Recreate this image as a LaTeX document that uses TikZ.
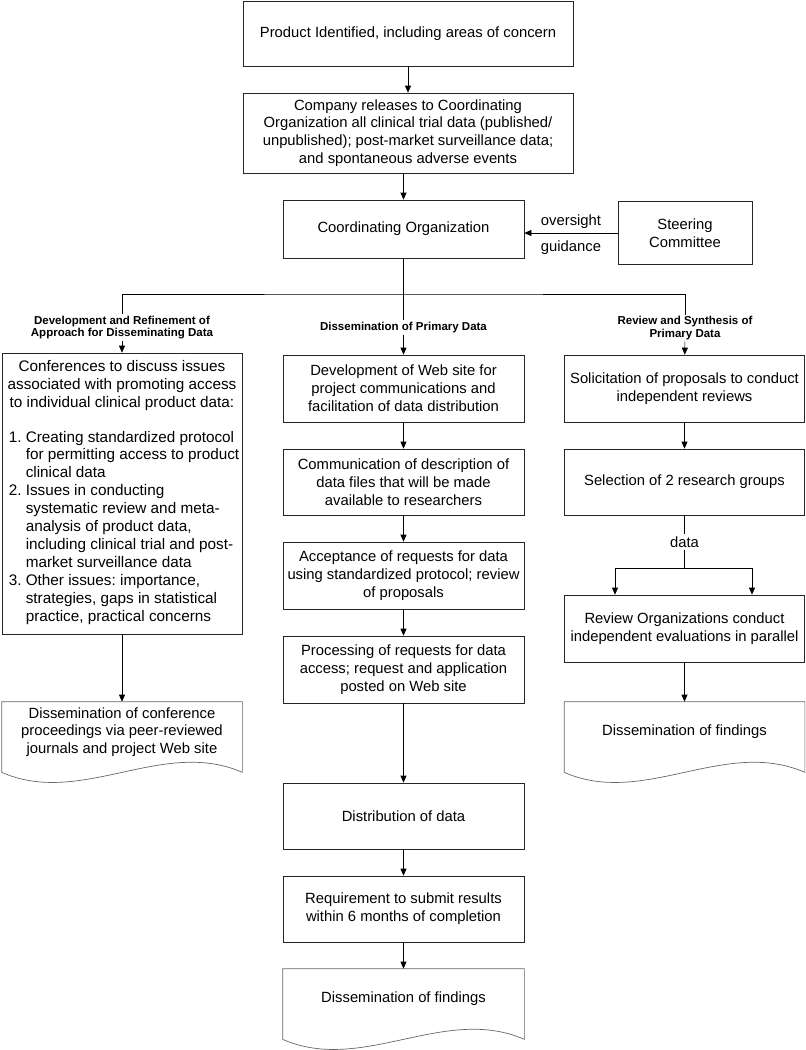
\documentclass[tikz,border=0pt]{standalone}
\usepackage{fontspec}
\setmainfont{Liberation Sans}
\usetikzlibrary{arrows.meta}
\frenchspacing

\tikzset{
  box/.style={draw=black!85, align=center, inner sep=2pt, font={\fontsize{14.8}{17.8}\selectfont}},
  doc/.style={align=center, inner sep=2pt, font={\fontsize{14.8}{17.8}\selectfont}},
  lab/.style={align=center, inner sep=1.5pt, font={\fontsize{11.5}{12.5}\selectfont\bfseries}},
  txt/.style={inner sep=2pt, font={\fontsize{14.8}{17.8}\selectfont}},
}

% paper-like box with wavy bottom
\newcommand{\docwave}[1]{
  \draw[draw=black!60] (#1.north west) -- (#1.north east) -- ([yshift=-10pt]#1.south east)
    .. controls ([xshift=-80pt,yshift=25pt]#1.south east) and ([xshift=80pt,yshift=-45pt]#1.south west)
    .. ([yshift=-10pt]#1.south west) -- cycle;
}

\begin{document}
\begin{tikzpicture}[x=1pt, y=-1pt, line width=0.7pt, >={Triangle[length=7pt,width=6pt]}]
        \useasboundingbox (0,0) rectangle (806,1050);

        % top
        \node[box, minimum width=330pt, minimum height=65pt] (prod) at (408,33.5) {Product Identified, including areas of concern};
        \node[box, minimum width=330pt, minimum height=80pt] (release) at (408,133) {Company releases to Coordinating\\Organization all clinical trial data (published/\\unpublished); post-market surveillance data;\\and spontaneous adverse events};
        \node[box, minimum width=241pt, minimum height=58pt] (coord) at (403.5,229) {Coordinating Organization};
        \node[box, minimum width=134pt, minimum height=63pt] (steer) at (685,233) {Steering\\Committee};

        \draw[->] (prod) -- (release);
        \draw[->] (release.south -| coord.north) -- (coord);
        \draw[->] (steer.west) -- (steer.west -| coord.east)
            node[txt, midway, above=2pt] {oversight} node[txt, midway, below=5pt] {guidance};

        % branch labels
        \coordinate (split) at (403.5,294);
        \node[lab] (leftlab) at (122,327.5) {Development and Refinement of\\Approach for Disseminating Data};
        \node[lab] (midlab) at (403.5,327.5) {Dissemination of Primary Data};
        \node[lab] (rightlab) at (685,328) {Review and Synthesis of\\Primary Data};
        \draw (coord) -- (midlab);
        \draw (leftlab.north) |- (split) -| (rightlab.north);

        % left column
        \node[box, minimum width=240pt, minimum height=281pt, inner sep=1pt, font={\fontsize{15.3}{17.9}\selectfont}] (conf) at (122,493.5) {Conferences to discuss issues\\associated with promoting access\\to individual clinical product data:\\[17.9pt]
          \hspace*{4pt}\begin{tabular}{@{}r@{ }l@{}}
          1.&Creating standardized protocol\\
            &for permitting access to product\\
            &clinical data\\
          2.&Issues in conducting\\
            &systematic review and meta-\\
            &analysis of product data,\\
            &including clinical trial and post-\\
            &market surveillance data\\
          3.&Other issues: importance,\\
            &strategies, gaps in statistical\\
            &practice, practical concerns
          \end{tabular}};
        \node[doc, minimum width=240pt, minimum height=60pt] (confdoc) at (122,732) {Dissemination of conference\\proceedings via peer-reviewed\\journals and project Web site};
        \docwave{confdoc}
        \draw[->] (leftlab) -- (conf);
        \draw[->] (conf) -- (confdoc);

        % middle column
        \node[box, minimum width=241pt, minimum height=67pt] (web) at (403.5,388.5) {Development of Web site for\\project communications and\\facilitation of data distribution};
        \node[box, minimum width=241pt, minimum height=66pt] (files) at (403.5,482) {Communication of description of\\data files that will be made\\available to researchers};
        \node[box, minimum width=241pt, minimum height=67pt] (accept) at (403.5,575.5) {Acceptance of requests for data\\using standardized protocol; review\\of proposals};
        \node[box, minimum width=241pt, minimum height=67pt] (process) at (403.5,669.5) {Processing of requests for data\\access; request and application\\posted on Web site};
        \node[box, minimum width=241pt, minimum height=66pt] (distrib) at (403.5,816) {Distribution of data};
        \node[box, minimum width=241pt, minimum height=66pt] (submit) at (403.5,909) {Requirement to submit results\\within 6 months of completion};
        \node[doc, minimum width=241pt, minimum height=60pt] (middoc) at (403.5,999) {Dissemination of findings};
        \docwave{middoc}
        \draw[->] (midlab) -- (web);
        \draw[->] (web) -- (files);
        \draw[->] (files) -- (accept);
        \draw[->] (accept) -- (process);
        \draw[->] (process) -- (distrib);
        \draw[->] (distrib) -- (submit);
        \draw[->] (submit) -- (middoc);

        % right column
        \node[box, minimum width=240pt, minimum height=67pt] (solicit) at (684.5,388.5) {Solicitation of proposals to conduct\\independent reviews};
        \node[box, minimum width=240pt, minimum height=66pt] (select) at (684.5,482) {Selection of 2 research groups};
        \node[txt] (datalab) at (684.5,542) {data};
        \coordinate (rsplit) at (684.5,568);
        \node[box, minimum width=240pt, minimum height=67pt] (revorg) at (684.5,628.5) {Review Organizations conduct\\independent evaluations in parallel};
        \node[doc, minimum width=240pt, minimum height=60pt] (rightdoc) at (684.5,732) {Dissemination of findings};
        \docwave{rightdoc}
        \draw[->] (rightlab) -- (solicit);
        \draw[->] (solicit) -- (select);
        \draw (select) -- (datalab);
        \draw (datalab) -- (rsplit);
        \draw[->] (rsplit) -| ([xshift=-69.5pt]revorg.north);
        \draw[->] (rsplit) -| ([xshift=67.5pt]revorg.north);
        \draw[->] (revorg) -- (rightdoc);
    \end{tikzpicture}
\end{document}
